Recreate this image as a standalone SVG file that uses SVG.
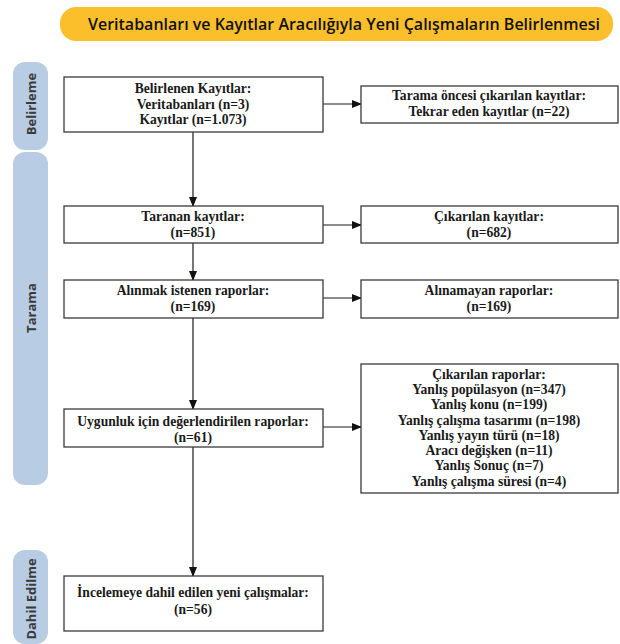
<svg xmlns="http://www.w3.org/2000/svg" width="620" height="644" viewBox="0 0 620 644">
<style>
.box{fill:#fff;stroke:#3a3a3a;stroke-width:1.3}
.t{font-family:"Liberation Serif",serif;font-weight:bold;font-size:13.6px;fill:#1a1a1a;text-anchor:middle}
.side{fill:#b8cce4}
.st{font-family:"Open Sans","DejaVu Sans",sans-serif;font-weight:bold;font-size:13px;fill:#3a3a3a;text-anchor:middle}
.ln{stroke:#1a1a1a;stroke-width:1.2;fill:none}
</style>
<defs>
<marker id="ah" markerWidth="10" markerHeight="8" refX="9" refY="4" orient="auto" markerUnits="userSpaceOnUse">
<path d="M0,0 L10,4 L0,8 Z" fill="#111"/>
</marker>
</defs>
<rect width="620" height="644" fill="#fff"/>
<g id="title">
<rect x="60" y="7" width="553" height="34" rx="16" fill="#fbbf2c"/>
<text x="344" y="30" font-family="Open Sans, DejaVu Sans, sans-serif" font-weight="600" font-size="16" fill="#111" text-anchor="middle">Veritabanları ve Kayıtlar Aracılığıyla Yeni Çalışmaların Belirlenmesi</text>
</g>
<g id="phase-belirleme">
<rect class="side" x="13" y="62" width="35" height="88" rx="12"/>
<text class="st" transform="translate(36,104) rotate(-90)">Belirleme</text>
</g>
<g id="phase-tarama">
<rect class="side" x="13" y="152" width="35" height="333" rx="12"/>
<text class="st" transform="translate(36,308) rotate(-90)">Tarama</text>
</g>
<g id="phase-dahil">
<rect class="side" x="13" y="550" width="35" height="94" rx="12"/>
<text class="st" transform="translate(36,599) rotate(-90)">Dahil Edilme</text>
</g>
<g id="connectors">
<line class="ln" x1="193" y1="132" x2="193" y2="206" marker-end="url(#ah)"/>
<line class="ln" x1="193" y1="243" x2="193" y2="280" marker-end="url(#ah)"/>
<line class="ln" x1="193" y1="318" x2="193" y2="409" marker-end="url(#ah)"/>
<line class="ln" x1="193" y1="447" x2="193" y2="576" marker-end="url(#ah)"/>
<line class="ln" x1="323" y1="104" x2="361" y2="104" marker-end="url(#ah)"/>
<line class="ln" x1="323" y1="225" x2="361" y2="225" marker-end="url(#ah)"/>
<line class="ln" x1="323" y1="298" x2="361" y2="298" marker-end="url(#ah)"/>
<line class="ln" x1="323" y1="427" x2="361" y2="427" marker-end="url(#ah)"/>
</g>
<g id="n-belirlenen">
<rect class="box" x="64" y="77" width="259" height="55"/>
<text class="t" x="193" y="93">Belirlenen Kayıtlar:</text>
<text class="t" x="193" y="109">Veritabanları (n=3)</text>
<text class="t" x="193" y="124">Kayıtlar (n=1.073)</text>
</g>
<g id="n-tarama-oncesi">
<rect class="box" x="361" y="86" width="257" height="37"/>
<text class="t" x="489" y="100">Tarama öncesi çıkarılan kayıtlar:</text>
<text class="t" x="489" y="116">Tekrar eden kayıtlar (n=22)</text>
</g>
<g id="n-taranan">
<rect class="box" x="64" y="206" width="259" height="37"/>
<text class="t" x="193" y="221">Taranan kayıtlar:</text>
<text class="t" x="193" y="237">(n=851)</text>
</g>
<g id="n-cikarilan-kayit">
<rect class="box" x="361" y="206" width="257" height="37"/>
<text class="t" x="489" y="221">Çıkarılan kayıtlar:</text>
<text class="t" x="489" y="237">(n=682)</text>
</g>
<g id="n-alinmak">
<rect class="box" x="64" y="280" width="259" height="38"/>
<text class="t" x="193" y="295">Alınmak istenen raporlar:</text>
<text class="t" x="193" y="311">(n=169)</text>
</g>
<g id="n-alinamayan">
<rect class="box" x="361" y="280" width="257" height="38"/>
<text class="t" x="489" y="295">Alınamayan raporlar:</text>
<text class="t" x="489" y="311">(n=169)</text>
</g>
<g id="n-uygunluk">
<rect class="box" x="64" y="409" width="259" height="38"/>
<text class="t" x="193" y="426">Uygunluk için değerlendirilen raporlar:</text>
<text class="t" x="193" y="442">(n=61)</text>
</g>
<g id="n-cikarilan-rapor">
<rect class="box" x="361" y="364" width="257" height="129"/>
<text class="t" x="489" y="379">Çıkarılan raporlar:</text>
<text class="t" x="489" y="394">Yanlış popülasyon (n=347)</text>
<text class="t" x="489" y="409">Yanlış konu (n=199)</text>
<text class="t" x="489" y="425">Yanlış çalışma tasarımı (n=198)</text>
<text class="t" x="489" y="440">Yanlış yayın türü (n=18)</text>
<text class="t" x="489" y="455">Aracı değişken (n=11)</text>
<text class="t" x="489" y="470">Yanlış Sonuç (n=7)</text>
<text class="t" x="489" y="486">Yanlış çalışma süresi (n=4)</text>
</g>
<g id="n-incelemeye">
<rect class="box" x="64" y="576" width="259" height="55"/>
<text class="t" x="193" y="597">İncelemeye dahil edilen yeni çalışmalar:</text>
<text class="t" x="193" y="614">(n=56)</text>
</g>
</svg>
